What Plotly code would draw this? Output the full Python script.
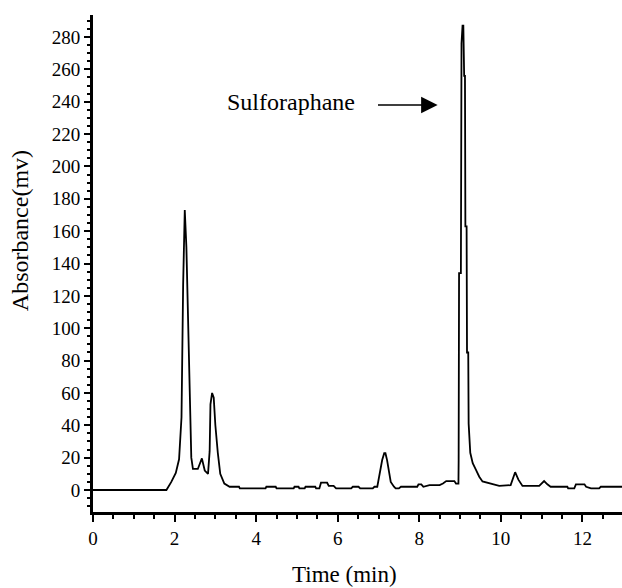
import plotly.graph_objects as go

# Chromatogram trace (time in min, absorbance in mV)
time_min = [
    0.0, 1.8, 1.92, 2.03, 2.11, 2.17, 2.21, 2.25, 2.29, 2.35, 2.38, 2.41, 2.45,
    2.57, 2.67, 2.74, 2.82, 2.86, 2.88, 2.92, 2.96, 3.0, 3.06, 3.12, 3.22,
    3.35, 3.58, 3.6, 4.23, 4.25, 4.48, 4.5, 4.92, 4.94, 5.04, 5.06, 5.19, 5.21,
    5.45, 5.47, 5.55, 5.59, 5.74, 5.78, 5.9, 5.96, 6.33, 6.37, 6.51, 6.55,
    6.86, 6.9, 6.97, 7.01, 7.09, 7.14, 7.17, 7.21, 7.25, 7.3, 7.38, 7.42, 7.5,
    7.55, 7.95, 7.98, 8.05, 8.1, 8.25, 8.5, 8.58, 8.66, 8.86, 8.9, 8.96,
    8.965, 8.975, 9.02, 9.035, 9.06, 9.08, 9.1, 9.12, 9.13, 9.16, 9.17, 9.2,
    9.21, 9.25, 9.31, 9.39, 9.47, 9.55, 9.71, 9.96, 10.24, 10.35, 10.43,
    10.53, 10.94, 11.06, 11.14, 11.22, 11.63, 11.65, 11.8, 11.84, 12.05,
    12.09, 12.21, 12.41, 12.45, 13.0,
]
absorbance_mv = [
    0, 0, 5, 10.5, 19, 45, 127, 173, 150, 78, 38, 20, 13,
    13, 19.5, 12, 10, 24, 53, 60, 57, 40, 23, 10, 4,
    2, 2, 1, 1, 2, 2, 1, 1, 2, 2, 1, 1, 2,
    2, 1, 1, 4.5, 4.5, 2.5, 2.5, 1, 1, 2, 2, 1,
    1, 2, 2, 8, 18.5, 22.7, 22.7, 18.5, 11, 5, 2, 1, 1,
    2, 2, 3.5, 3.5, 2, 3, 3, 4, 5.5, 5.5, 4, 4,
    18.5, 134, 134, 276, 287, 287, 256, 256, 163, 163, 85, 85,
    41, 23, 16.6, 12.4, 8.2, 5.3, 4.3, 2.5, 3, 11, 6.4,
    2.5, 2.5, 5.5, 3.5, 2, 2, 1, 1, 3.5, 3.5,
    2, 1, 1, 2, 2,
]

y_tick_values = list(range(0, 281, 20))
x_tick_values = [0, 2, 4, 6, 8, 10, 12]

peak_label = "Sulforaphane"
x_title = "Time (min)"
y_title = "Absorbance(mv)"

FONT = "Liberation Serif"

fig = go.Figure()
fig.add_trace(go.Scatter(
    x=time_min, y=absorbance_mv, mode="lines",
    line=dict(color="black", width=1.8),
    showlegend=False, hoverinfo="skip",
))

fig.update_layout(
    width=622, height=588,
    margin=dict(l=93, r=0, t=15, b=76),
    paper_bgcolor="white", plot_bgcolor="white",
    font=dict(family=FONT, color="black", size=19),
    xaxis=dict(
        range=[0, 12.97], tickvals=x_tick_values, ticks="outside",
        ticklen=7, tickwidth=1.5, tickcolor="black",
        showline=True, linewidth=3, linecolor="black",
        showgrid=False, zeroline=False,
        tickfont=dict(family=FONT, size=19, color="black"),
        minor=dict(dtick=0.5, ticks="outside", ticklen=4, tickwidth=1.5,
                   tickcolor="black", showgrid=False),
    ),
    yaxis=dict(
        range=[-13.6, 293.6], tickvals=y_tick_values, ticks="outside",
        ticklen=6, tickwidth=1.5, tickcolor="black",
        showline=True, linewidth=3, linecolor="black",
        showgrid=False, zeroline=False,
        tickfont=dict(family=FONT, size=19, color="black"),
        minor=dict(dtick=5, ticks="outside", ticklen=3, tickwidth=1.5,
                   tickcolor="black", showgrid=False),
    ),
    annotations=[
        dict(text=x_title, xref="paper", yref="paper", x=0.476, y=-0.125,
             xanchor="center", yanchor="middle", showarrow=False,
             font=dict(family=FONT, size=23, color="black")),
        dict(text=y_title, xref="paper", yref="paper", x=-0.138, y=0.567,
             xanchor="center", yanchor="middle", showarrow=False, textangle=-90,
             font=dict(family=FONT, size=24, color="black")),
        dict(text=peak_label, xref="x", yref="y", x=4.85, y=240,
             xanchor="center", yanchor="middle", showarrow=False,
             font=dict(family=FONT, size=24, color="black")),
        dict(text="", xref="x", yref="y", x=8.45, y=238,
             axref="x", ayref="y", ax=6.95, ay=238,
             showarrow=True, arrowhead=2, arrowsize=2.2, arrowwidth=1.5,
             arrowcolor="black"),
    ],
)

fig.write_html(
    "out.html",
    config={"displayModeBar": False},
    post_script="document.body.style.margin='0';document.body.style.overflow='hidden';",
)
